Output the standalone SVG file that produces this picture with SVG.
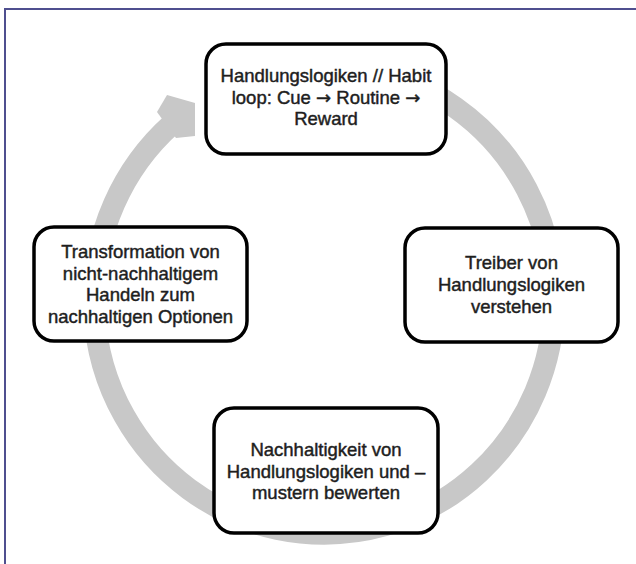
<svg xmlns="http://www.w3.org/2000/svg" width="636" height="564" viewBox="0 0 636 564">
<style>
.box{fill:#fff;stroke:#000;stroke-width:3.5}
.t{font-family:"Liberation Sans",Arial,sans-serif;font-size:18.5px;fill:#1e1e1e;stroke:#1e1e1e;stroke-width:0.45;text-anchor:middle}
.ar{font-family:"DejaVu Sans",sans-serif;font-size:18px}
.ring{fill:none;stroke:#c8c8c8;stroke-width:22}
</style>
<rect x="0" y="0" width="636" height="564" fill="#fff"/>
<path d="M5 564 V9 H636" fill="none" stroke="#4f4f8f" stroke-width="2"/>
<g id="connectors">
<path class="ring" d="M366 69.6 A230 234 0 1 1 172 124"/>
<polygon points="157,112 167,95 195,103 195,136 176,138" fill="#c8c8c8"/>
</g>
<g id="n1">
<rect class="box" x="206" y="44" width="240" height="110" rx="20"/>
<text class="t" x="326" y="82">Handlungslogiken // Habit</text>
<text class="t" x="326" y="104">loop: Cue <tspan class="ar">→</tspan> Routine <tspan class="ar">→</tspan></text>
<text class="t" x="326" y="125">Reward</text>
</g>
<g id="n2">
<rect class="box" x="405" y="228" width="213" height="114" rx="20"/>
<text class="t" x="511.5" y="269">Treiber von</text>
<text class="t" x="511.5" y="291">Handlungslogiken</text>
<text class="t" x="511.5" y="313">verstehen</text>
</g>
<g id="n3">
<rect class="box" x="214" y="408" width="224" height="125" rx="20"/>
<text class="t" x="326" y="456">Nachhaltigkeit von</text>
<text class="t" x="326" y="478">Handlungslogiken und –</text>
<text class="t" x="326" y="499">mustern bewerten</text>
</g>
<g id="n4">
<rect class="box" x="34" y="227" width="213" height="114" rx="20"/>
<text class="t" x="140.5" y="258">Transformation von</text>
<text class="t" x="140.5" y="279.5">nicht-nachhaltigem</text>
<text class="t" x="140.5" y="301">Handeln zum</text>
<text class="t" x="140.5" y="323">nachhaltigen Optionen</text>
</g>
</svg>
